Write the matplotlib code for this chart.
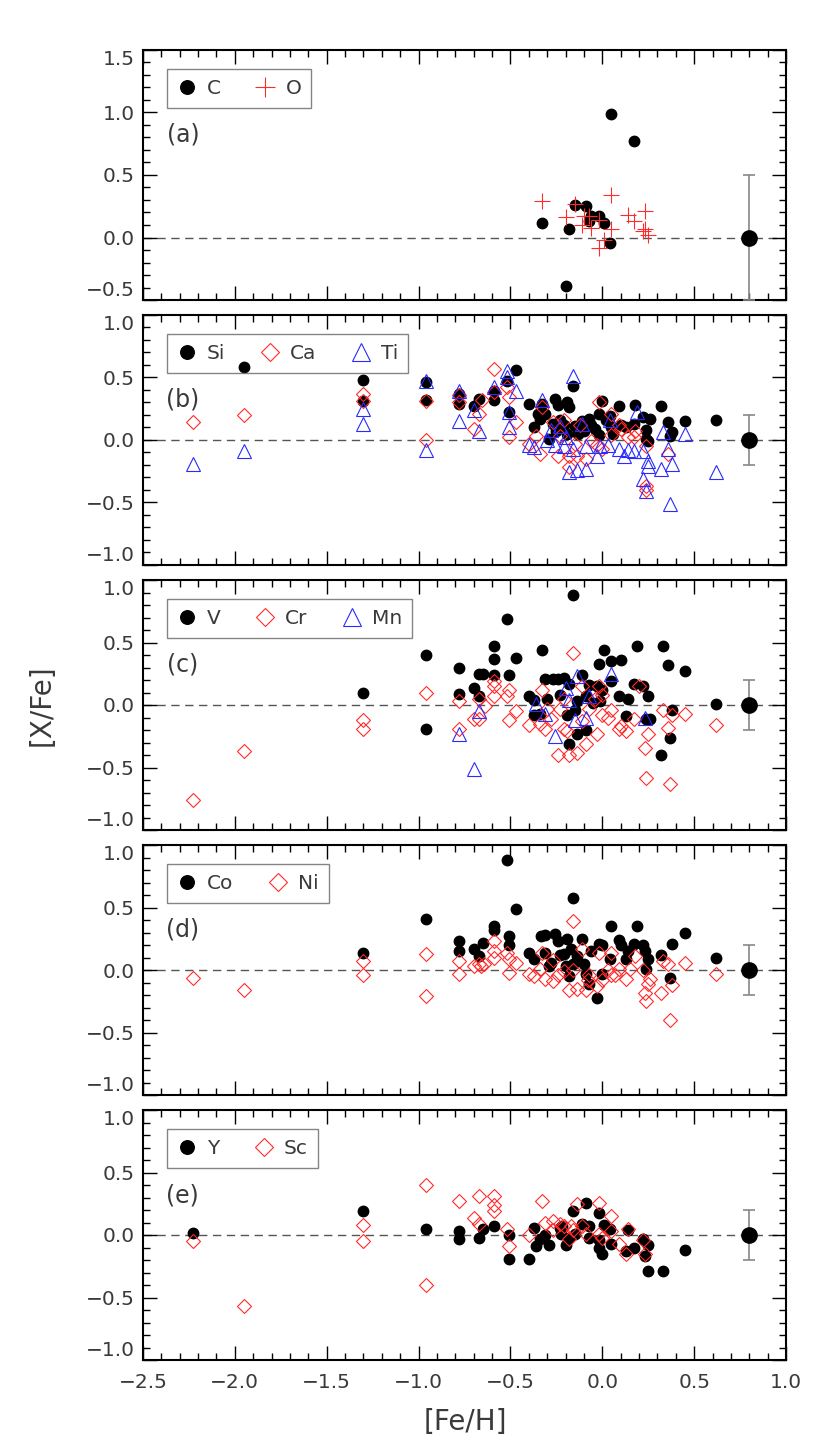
import matplotlib
matplotlib.use('Agg')
import matplotlib.pyplot as plt
import numpy as np

# ---- data: [Fe/H] and [X/Fe] per element ----
# panel (a)
c_feh = [0.05, 0.17, -0.33, -0.18, -0.15, -0.09, -0.07, -0.06, -0.02, 0.01, 0.04, -0.20]
c_xfe = [0.99, 0.77, 0.12, 0.07, 0.26, 0.25, 0.13, 0.17, 0.17, 0.12, -0.04, -0.39]
o_feh = [-0.33, -0.20, -0.15, -0.10, -0.11, -0.06, -0.02, 0.01, -0.02, 0.05, 0.05, 0.14,
         0.17, 0.23, 0.22, 0.23, 0.25, -0.07]
o_xfe = [0.29, 0.16, 0.27, 0.17, 0.10, 0.08, 0.14, -0.02, -0.08, 0.34, 0.07, 0.18,
         0.13, 0.21, 0.05, 0.07, 0.02, 0.17]

# panel (b)
si_feh = [-1.95, -1.30, -1.30, -0.96, -0.96, -0.78, -0.78, -0.70, -0.67, -0.59, -0.59, -0.52,
          -0.47, -0.51, -0.40, -0.33, -0.37, -0.34, -0.31, -0.26, -0.24, -0.19, -0.18, -0.16,
          -0.29, 0.00, 0.09, 0.18, 0.32, 0.36, 0.38, 0.37, 0.45, 0.62, 0.22, 0.26, 0.24, 0.24,
          0.25, 0.17, 0.13, 0.05, -0.02, -0.02, -0.06, -0.11, -0.21, -0.23, -0.27, -0.15, -0.10,
          -0.19, -0.07, 0.02, -0.12, -0.04, 0.04, -0.13, -0.25, 0.06, -0.35, 0.10]
si_xfe = [0.58, 0.48, 0.31, 0.46, 0.32, 0.37, 0.29, 0.27, 0.33, 0.32, 0.39, 0.47,
          0.56, 0.22, 0.29, 0.29, 0.10, 0.17, 0.21, 0.33, 0.28, 0.30, 0.26, 0.43,
          0.01, 0.31, 0.27, 0.28, 0.27, 0.14, 0.06, 0.03, 0.15, 0.16, 0.18, 0.17, 0.08, 0.01,
          -0.01, 0.13, 0.10, 0.10, 0.21, 0.04, 0.12, 0.15, 0.12, 0.16, 0.13, 0.11, 0.07,
          0.05, 0.17, 0.16, 0.10, 0.09, 0.19, 0.05, 0.07, 0.05, 0.21, 0.12]
ca_feh = [-2.23, -1.95, -1.30, -1.30, -0.96, -0.96, -0.78, -0.78, -0.70, -0.67, -0.655, -0.59,
          -0.59, -0.52, -0.51, -0.51, -0.47, -0.40, -0.34, -0.33, -0.36, -0.24, -0.18, -0.18,
          -0.14, -0.09, -0.02, 0.05, 0.09, 0.14, 0.17, 0.18, 0.24, 0.24, 0.24, 0.36, 0.05,
          -0.03, -0.21, -0.06, -0.15, -0.23, -0.12, -0.27, 0.00, 0.10]
ca_xfe = [0.14, 0.20, 0.37, 0.31, 0.31, 0.00, 0.36, 0.30, 0.09, 0.21, 0.32, 0.57,
          0.38, 0.42, 0.34, 0.02, 0.14, -0.03, -0.11, 0.26, 0.03, -0.13, -0.22, -0.13,
          -0.13, -0.15, 0.30, 0.21, 0.12, 0.02, 0.02, 0.07, -0.05, -0.37, -0.40, -0.11, 0.04,
          -0.04, 0.16, -0.01, -0.03, 0.03, 0.12, 0.14, -0.07, 0.09]
ti_feh = [-2.23, -1.95, -1.30, -1.30, -0.96, -0.96, -0.78, -0.78, -0.70, -0.67, -0.59, -0.52,
          -0.52, -0.51, -0.51, -0.47, -0.40, -0.37, -0.33, -0.16, -0.18, -0.14, -0.09, -0.03,
          0.19, 0.22, 0.24, 0.25, 0.25, 0.32, 0.33, 0.36, 0.38, 0.37, 0.45, 0.62, 0.12, 0.09,
          0.03, -0.01, -0.09, -0.16, -0.21, -0.26, -0.30, 0.04, -0.11, -0.23, 0.17, 0.22,
          -0.28, -0.20, 0.14]
ti_xfe = [-0.19, -0.09, 0.25, 0.13, 0.47, -0.08, 0.39, 0.15, 0.24, 0.07, 0.42, 0.55,
          0.50, 0.22, 0.10, 0.39, -0.04, -0.06, 0.32, 0.51, -0.26, -0.24, -0.23, -0.13,
          0.22, -0.31, -0.41, -0.21, -0.17, -0.23, 0.06, -0.07, -0.19, -0.51, 0.05, -0.26, -0.13,
          -0.07, -0.04, -0.05, -0.05, -0.07, -0.05, -0.04, 0.00, 0.16, 0.13, 0.11, -0.09, -0.09,
          0.08, 0.02, -0.08]

# panel (c)
v_feh = [-1.30, -0.96, -0.96, -0.78, -0.78, -0.70, -0.67, -0.65, -0.67, -0.59, -0.59, -0.59,
         -0.52, -0.51, -0.47, -0.40, -0.37, -0.37, -0.33, -0.31, -0.30, -0.27, -0.24, -0.21,
         -0.18, -0.16, -0.18, -0.14, -0.09, -0.11, -0.02, 0.01, 0.05, 0.10, 0.05, 0.09, 0.14,
         0.13, 0.17, 0.19, 0.22, 0.25, 0.24, 0.26, 0.32, 0.33, 0.36, 0.38, 0.37, 0.45, 0.62,
         -0.15, -0.14, -0.09, -0.07, -0.03, -0.01, -0.19, -0.34, -0.23, 0.00, -0.05]
v_xfe = [0.10, 0.40, -0.19, 0.30, 0.09, 0.14, 0.25, 0.25, 0.07, 0.47, 0.37, 0.24,
         0.69, 0.24, 0.38, 0.07, 0.04, -0.08, 0.44, 0.21, 0.05, 0.21, 0.21, 0.22,
         0.17, 0.88, -0.31, -0.23, -0.20, 0.24, 0.33, 0.44, 0.35, 0.36, 0.19, 0.07, 0.05,
         -0.09, 0.17, 0.47, 0.15, 0.07, -0.11, -0.11, -0.40, 0.47, 0.32, -0.04, -0.26, 0.27, 0.01,
         -0.04, 0.03, 0.07, 0.16, 0.15, 0.03, -0.08, -0.07, 0.08, 0.12, 0.02]
cr_feh = [-2.23, -1.95, -1.30, -1.30, -0.96, -0.78, -0.78, -0.70, -0.67, -0.67, -0.64, -0.59,
          -0.59, -0.59, -0.52, -0.51, -0.51, -0.47, -0.40, -0.33, -0.34, -0.31, -0.24, -0.18,
          -0.14, -0.09, -0.03, -0.16, -0.11, -0.02, 0.00, 0.05, 0.09, 0.13, 0.20, 0.17, 0.23,
          0.24, 0.25, 0.33, 0.36, 0.38, 0.37, 0.45, 0.62, -0.21, -0.19, -0.28, -0.23, -0.07,
          0.00, 0.10, -0.21, -0.11, -0.30, 0.03, -0.04]
cr_xfe = [-0.76, -0.37, -0.12, -0.19, 0.10, 0.03, -0.19, -0.11, 0.05, -0.11, -0.01, 0.19,
          0.15, 0.07, 0.07, 0.12, -0.12, -0.05, -0.16, 0.12, -0.15, -0.19, -0.40, -0.40,
          -0.38, -0.31, -0.23, 0.42, 0.15, 0.15, 0.08, -0.04, -0.19, -0.21, 0.15, -0.11, -0.34,
          -0.58, -0.23, -0.04, -0.18, -0.08, -0.63, -0.07, -0.16, -0.19, -0.21, -0.11, -0.03, -0.03,
          -0.08, -0.17, 0.05, -0.13, -0.03, -0.10, 0.05]
mn_feh = [-0.78, -0.70, -0.67, -0.36, -0.31, -0.26, -0.20, -0.18, -0.14, -0.15, -0.09, -0.07,
          0.05, 0.23]
mn_xfe = [-0.23, -0.51, -0.05, 0.01, -0.07, -0.25, 0.14, 0.04, 0.23, -0.12, -0.10, 0.07,
          0.25, -0.10]

# panel (d)
co_feh = [-1.30, -0.96, -0.78, -0.78, -0.70, -0.67, -0.65, -0.59, -0.59, -0.52, -0.51, -0.51,
          -0.47, -0.40, -0.37, -0.335, -0.31, -0.31, -0.29, -0.26, -0.24, -0.19, -0.16, -0.18,
          -0.09, -0.07, -0.03, -0.11, -0.02, 0.00, 0.05, 0.09, 0.10, 0.14, 0.13, 0.17, 0.19,
          0.22, 0.23, 0.25, 0.24, 0.32, 0.38, 0.37, 0.45, 0.62, 0.00, 0.04, -0.06, -0.23,
          -0.21, -0.17, -0.16, -0.14, -0.10, -0.20, -0.28]
co_xfe = [0.14, 0.41, 0.23, 0.15, 0.17, 0.11, 0.22, 0.35, 0.32, 0.88, 0.27, 0.20,
          0.49, 0.14, 0.09, 0.27, 0.28, 0.14, 0.03, 0.29, 0.23, 0.25, 0.58, -0.05,
          -0.03, -0.11, -0.22, 0.25, 0.21, 0.20, 0.35, 0.24, 0.20, 0.15, 0.09, 0.21, 0.35,
          0.20, 0.15, 0.09, 0.01, 0.12, 0.21, -0.06, 0.30, 0.10, -0.03, 0.09, 0.15, 0.12,
          0.13, 0.17, 0.05, 0.11, 0.05, 0.03, 0.06]
ni_feh = [-2.23, -1.95, -1.30, -1.30, -0.96, -0.96, -0.78, -0.78, -0.70, -0.67, -0.66, -0.645,
          -0.59, -0.59, -0.59, -0.52, -0.51, -0.51, -0.47, -0.40, -0.37, -0.34, -0.33, -0.31,
          -0.27, -0.27, -0.18, -0.14, -0.09, -0.16, -0.11, -0.03, -0.02, 0.00, 0.05, 0.05,
          0.09, 0.13, 0.18, 0.22, 0.23, 0.24, 0.25, 0.26, 0.32, 0.33, 0.36, 0.38, 0.37, 0.45,
          0.62, -0.21, -0.24, -0.16, -0.07, 0.07, 0.15, 0.03, -0.08]
ni_xfe = [-0.06, -0.16, 0.07, -0.04, 0.13, -0.21, 0.07, -0.03, 0.03, 0.05, 0.03, 0.05,
          0.23, 0.15, 0.10, 0.14, 0.09, -0.02, 0.06, -0.03, -0.05, 0.01, 0.14, -0.07,
          -0.09, 0.08, -0.16, -0.15, -0.16, 0.39, 0.17, -0.13, 0.14, -0.08, 0.14, -0.04,
          0.01, -0.07, 0.11, 0.00, -0.18, -0.25, -0.11, -0.07, -0.18, 0.07, 0.05, -0.12, -0.40, 0.06,
          -0.03, -0.01, -0.04, 0.00, -0.04, -0.04, 0.01, 0.00, -0.08]

# panel (e)
y_feh = [-2.23, -1.30, -0.96, -0.78, -0.78, -0.67, -0.65, -0.59, -0.51, -0.51, -0.40, -0.37,
         -0.36, -0.34, -0.31, -0.29, -0.23, -0.22, -0.225, -0.20, -0.18, -0.16, -0.15, -0.11,
         -0.09, -0.07, -0.07, -0.02, -0.02, -0.02, 0.00, 0.01, 0.04, 0.05, 0.13, 0.14, 0.17,
         0.22, 0.23, 0.25, 0.25, 0.33, 0.45]
y_xfe = [0.02, 0.19, 0.05, 0.03, -0.03, -0.02, 0.05, 0.07, 0.00, -0.19, -0.19, 0.06,
         -0.09, -0.03, 0.00, -0.08, 0.06, 0.07, 0.01, -0.08, -0.02, 0.19, 0.01, 0.09,
         0.26, 0.07, -0.02, 0.18, -0.04, -0.10, -0.15, 0.08, 0.05, -0.07, -0.13, 0.04, -0.10,
         -0.03, -0.17, -0.08, -0.29, -0.29, -0.12]
sc_feh = [-2.23, -1.95, -1.30, -1.30, -0.96, -0.96, -0.78, -0.70, -0.67, -0.67, -0.59, -0.59,
          -0.59, -0.52, -0.51, -0.40, -0.33, -0.31, -0.27, -0.27, -0.23, -0.21, -0.18, -0.17,
          -0.16, -0.14, -0.11, -0.09, -0.02, -0.02, 0.00, 0.05, 0.05, 0.09, 0.13, 0.14, 0.22, 0.23]
sc_xfe = [-0.05, -0.57, 0.08, -0.05, 0.40, -0.40, 0.27, 0.14, 0.31, 0.09, 0.31, 0.24,
          0.19, 0.05, -0.09, 0.00, 0.27, 0.10, 0.11, 0.04, 0.09, 0.07, -0.03, 0.07,
          0.04, 0.25, 0.07, 0.01, 0.26, 0.01, -0.02, 0.15, 0.03, -0.07, -0.15, 0.05, -0.04, -0.15]

# typical error bar shown at the right of each panel
err_feh = 0.8
err_size = [0.5, 0.2, 0.2, 0.2, 0.2]

panel_tags = ['(a)', '(b)', '(c)', '(d)', '(e)']
ylims = [(-0.5, 1.5), (-1.0, 1.0), (-1.0, 1.0), (-1.0, 1.0), (-1.0, 1.0)]

RED = '#ff2a2a'
BLUE = '#2a2aff'
TXT = '#3a3a3a'

circle = dict(marker='o', ls='none', color='black', ms=7.5, mec='black')
diamond = dict(marker='D', ls='none', mfc='none', mec=RED, ms=7.0, mew=0.8)
tri = dict(marker='^', ls='none', mfc='none', mec=BLUE, ms=10, mew=0.8)
plus = dict(marker='+', ls='none', color=RED, ms=11, mew=0.8)

panels = [
    [(c_feh, c_xfe, 'C', circle), (o_feh, o_xfe, 'O', plus)],
    [(si_feh, si_xfe, 'Si', circle), (ca_feh, ca_xfe, 'Ca', diamond), (ti_feh, ti_xfe, 'Ti', tri)],
    [(v_feh, v_xfe, 'V', circle), (cr_feh, cr_xfe, 'Cr', diamond), (mn_feh, mn_xfe, 'Mn', tri)],
    [(co_feh, co_xfe, 'Co', circle), (ni_feh, ni_xfe, 'Ni', diamond)],
    [(y_feh, y_xfe, 'Y', circle), (sc_feh, sc_xfe, 'Sc', diamond)],
]


def fmt(v, pos):
    return f'{v + 0.0:.1f}'.replace('-', '\u2212')


W, H = 830, 1455
fig = plt.figure(figsize=(W / 100, H / 100), dpi=100)
plt.rcParams['font.family'] = ['DejaVu Sans']

left, right = 143, 786
tops = [50, 315, 580, 845, 1110]
ph = 250
axes = []

for i, series in enumerate(panels):
    ax = fig.add_axes([left / W, 1 - (tops[i] + ph) / H, (right - left) / W, ph / H])
    axes.append(ax)
    ax.axhline(0, color='#555555', ls=(0, (6, 4)), lw=1.0, zorder=1)
    for feh, xfe, name, style in series:
        ax.plot(feh, xfe, label=name, zorder=3, **style)
    ax.errorbar([err_feh], [0], yerr=[err_size[i]], fmt='o', color='black', ms=11,
                ecolor='#888888', elinewidth=1.2, capsize=4, capthick=1.2, zorder=4)
    ax.set_xlim(-2.5, 1.0)
    ax.set_ylim(*ylims[i])
    ax.xaxis.set_major_locator(plt.MultipleLocator(0.5))
    ax.xaxis.set_minor_locator(plt.MultipleLocator(0.1))
    ax.yaxis.set_major_locator(plt.MultipleLocator(0.5))
    ax.yaxis.set_minor_locator(plt.MultipleLocator(0.1))
    ax.yaxis.set_major_formatter(plt.FuncFormatter(fmt))
    ax.xaxis.set_major_formatter(plt.FuncFormatter(fmt))
    ax.tick_params(which='both', direction='in', top=True, right=True, colors='black',
                   labelcolor=TXT, labelsize=14.5, width=1.0)
    ax.tick_params(which='major', length=10)
    ax.tick_params(which='minor', length=5)
    ax.tick_params(axis='y', pad=6)
    ax.tick_params(axis='x', pad=9)
    if i < 4:
        ax.tick_params(axis='x', labelbottom=False)
    for sp in ax.spines.values():
        sp.set_linewidth(1.5)

    leg = ax.legend(loc='upper left', bbox_to_anchor=(0.037, 0.925), ncol=len(series),
                    frameon=True, fancybox=False, borderaxespad=0, handlelength=1.0,
                    handletextpad=0.5, columnspacing=1.7, markerscale=1.3,
                    fontsize=14.5, borderpad=0.5)
    leg.get_frame().set_edgecolor('#666666')
    leg.get_frame().set_facecolor('none')
    leg.get_frame().set_linewidth(1.0)
    for t in leg.get_texts():
        t.set_color(TXT)

    ax.text(0.062, 0.66, panel_tags[i], transform=ax.transAxes, ha='center', va='center',
            fontsize=17, color=TXT)

fig.text(42 / W, 1 - 705 / H, '[X/Fe]', rotation=90, ha='center', va='center',
         fontsize=20, color=TXT)
fig.text(465 / W, 1 - 1422 / H, '[Fe/H]', ha='center', va='center', fontsize=20, color=TXT)

# nudge the end labels inward so neighbouring panels do not collide
fig.canvas.draw()
for ax in axes:
    lo, hi = ax.get_ylim()
    for tick in ax.yaxis.get_major_ticks():
        loc = tick.get_loc()
        if abs(loc - hi) < 1e-6:
            tick.label1.set_va('top')
        elif abs(loc - lo) < 1e-6:
            tick.label1.set_va('bottom')

fig.savefig('out.png', dpi=100)
